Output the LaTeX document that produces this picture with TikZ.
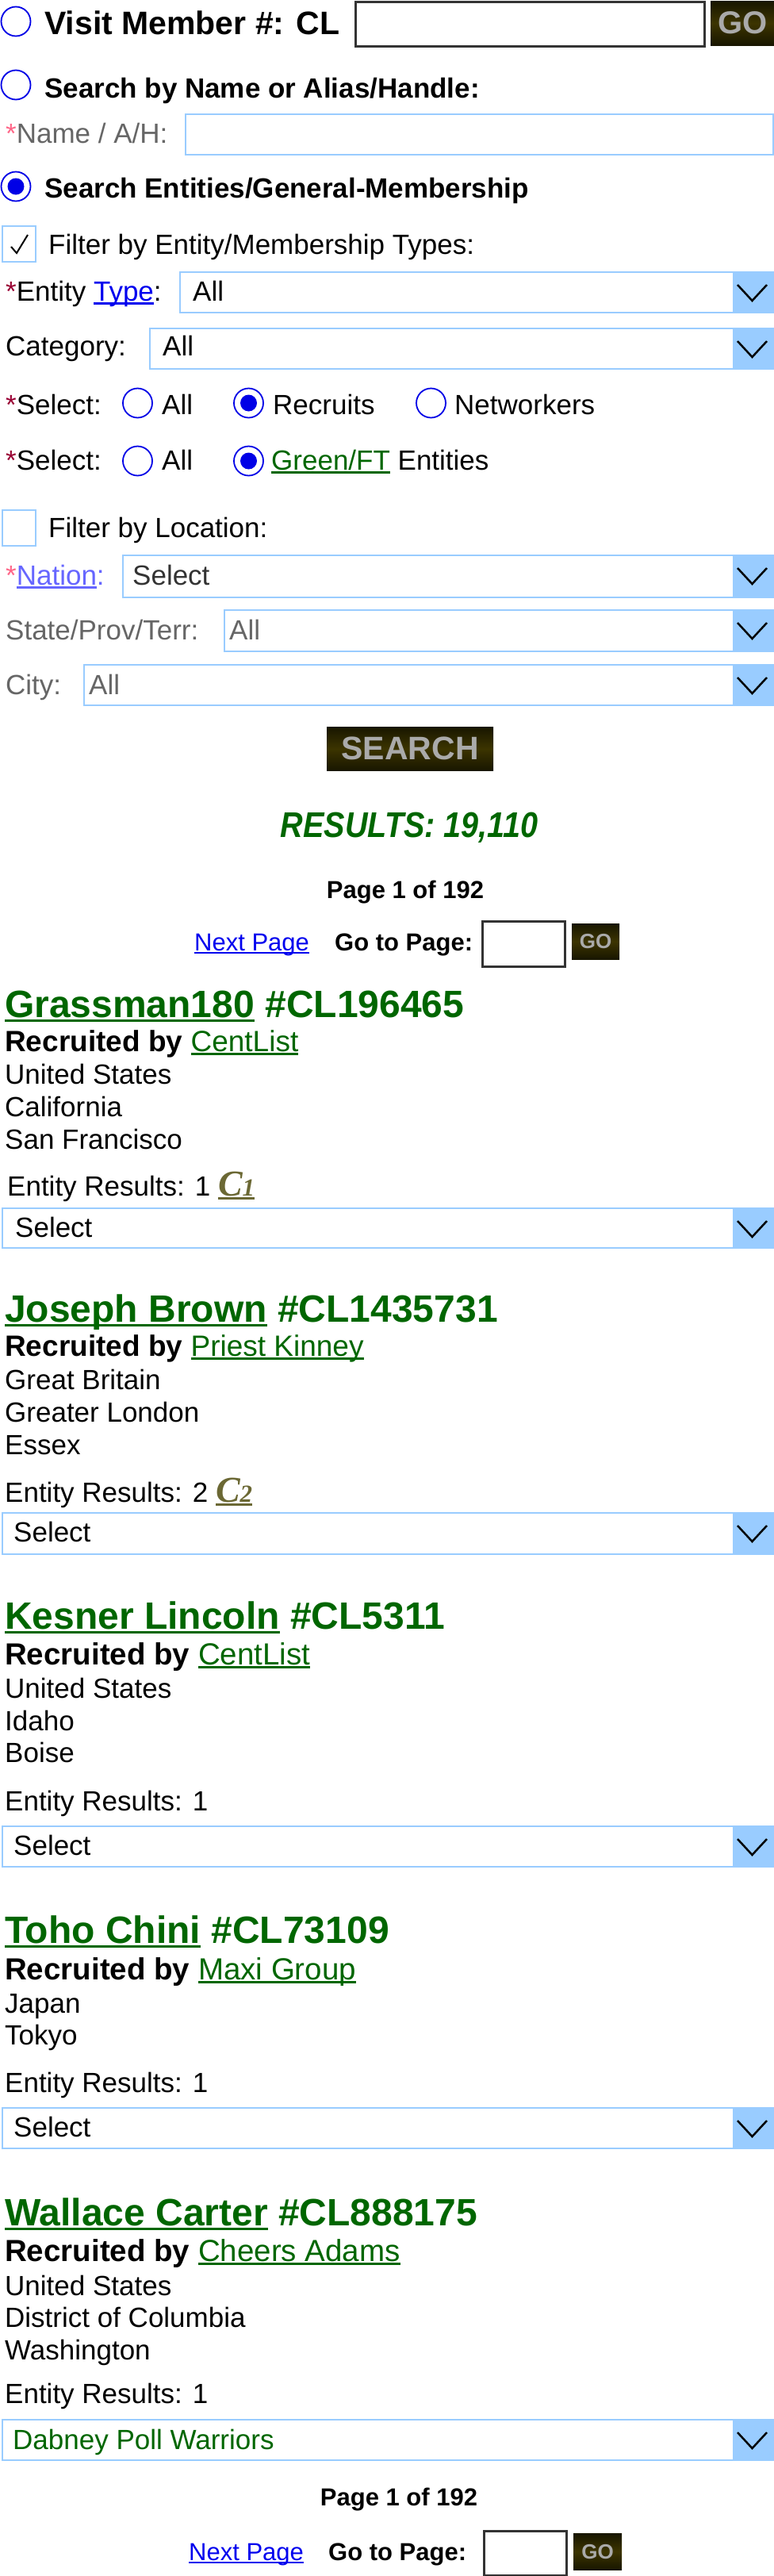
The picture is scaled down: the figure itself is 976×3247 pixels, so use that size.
\documentclass[tikz,border=0pt]{standalone}
\usepackage{fontspec}
\usepackage{graphicx}
\setmainfont{Liberation Sans}
\newfontfamily\badgefont{Liberation Serif}
\definecolor{radioblue}{RGB}{0,0,230}
\definecolor{selblue}{RGB}{153,204,255}
\definecolor{linkgreen}{RGB}{0,102,0}
\definecolor{linkblue}{RGB}{0,0,238}
\definecolor{navblue}{RGB}{102,102,255}
\definecolor{stardark}{RGB}{153,0,51}
\definecolor{starpink}{RGB}{255,102,136}
\definecolor{labelgray}{RGB}{102,102,102}
\definecolor{valgray}{RGB}{51,51,51}
\definecolor{btndark}{RGB}{24,22,0}
\definecolor{btnmid}{RGB}{60,52,0}
\definecolor{btntext}{RGB}{170,170,170}
\definecolor{badgeolive}{RGB}{107,104,52}
\newcommand\ulink[1]{\setbox0\hbox{#1}\rlap{\rule[-0.13em]{\wd0}{0.07em}}\box0\relax}
\newcommand\badge[1]{\textcolor{badgeolive}{\ulink{\badgefont\bfseries\itshape\fontsize{46}{46}\selectfont C\fontsize{31}{31}\selectfont#1}}}

\begin{document}
\begin{tikzpicture}[x=1pt,y=-1pt,
	body/.style={anchor=base west,inner sep=0pt,font=\fontsize{35}{42}\selectfont},
	strong/.style={body,font=\fontsize{35}{42}\selectfont\bfseries},
	hint/.style={body,text=labelgray},
	title/.style={body,text=linkgreen,font=\fontsize{48}{54}\selectfont\bfseries},
	byline/.style={body,font=\fontsize{38.5}{44}\selectfont},
	radio/.style={circle,draw=radioblue,line width=1.8pt,minimum size=37pt,inner sep=0pt},
	radioon/.style={radio,path picture={\fill[radioblue] (path picture bounding box.center) circle[radius=10.5pt];}},
	tickbox/.style={draw=selblue,line width=2pt,anchor=north west,inner sep=0pt,minimum width=42pt,minimum height=45pt},
	field/.style={draw=black!80,line width=2.5pt,anchor=north west,inner sep=0pt},
	inbox/.style={draw=selblue,line width=2pt,anchor=north west,inner sep=0pt},
	gobtn/.style={anchor=north west,inner sep=0pt,top color=btndark,bottom color=btndark,middle color=btnmid,text=btntext},
	dropdown/.style={draw=selblue,line width=2pt,anchor=north west,inner sep=0pt,
		path picture={
			\fill[selblue] ([xshift=-51pt]path picture bounding box.north east) rectangle (path picture bounding box.south east);
			\draw[black,line width=2.5pt] ([xshift=-45pt,yshift=-16pt]path picture bounding box.north east)
				-- ([xshift=-26.5pt,yshift=-36pt]path picture bounding box.north east)
				-- ([xshift=-8pt,yshift=-16pt]path picture bounding box.north east);}}]
\useasboundingbox (0,0) rectangle (976,3247);

% search form
\node[radio] (visitradio) at (20,27) {};
\node[strong,font=\fontsize{41}{48}\selectfont\bfseries] (visitlbl) at (56,43) {Visit Member \#: CL};
\node[field,minimum width=440pt,minimum height=56pt] (visitfield) at (447,1) {};
\node[gobtn,minimum width=80pt,minimum height=56pt,font=\fontsize{40}{44}\selectfont\bfseries] (visitgo) at (896,1) {GO};

\node[radio] (nameradio) at (20,107) {};
\node[strong] (namehead) at (56,123) {Search by Name or Alias/Handle:};
\node[hint] (namelbl) at (7,180) {\textcolor{starpink}{*}Name / A/H:};
\node[inbox,minimum width=741pt,minimum height=51pt] (namefield) at (233,143) {};

\node[radioon] (entradio) at (20,235) {};
\node[strong] (enthead) at (56,249) {Search Entities/General-Membership};

\node[tickbox] (typechk) at (2,284) {};
\draw[line width=2pt] ([shift={(-10,3.5)}]typechk.center) -- ([shift={(-3,11.5)}]typechk.center) -- ([shift={(11,-11.5)}]typechk.center);
\node[body] (typefilter) at (61,320) {Filter by Entity/Membership Types:};

\node[body] (typelbl) at (7,379) {\textcolor{stardark}{*}Entity \textcolor{linkblue}{\ulink{Type}}:};
\node[dropdown,minimum width=748pt,minimum height=51pt] (typesel) at (226,342) {};
\node[body] (typeval) at (243,379) {All};

\node[body] (catlbl) at (7,448) {Category:};
\node[dropdown,minimum width=786pt,minimum height=51pt] (catsel) at (188,413) {};
\node[body] (catval) at (205,448) {All};

\node[body] (rolelbl) at (7,522) {\textcolor{stardark}{*}Select:};
\node[radio] (roleall) at (173.5,508) {};
\node[body] (rolealltxt) at (204,522) {All};
\node[radioon] (rolerec) at (313.5,508) {};
\node[body] (rolerectxt) at (344,522) {Recruits};
\node[radio] (rolenet) at (543.5,508) {};
\node[body] (rolenettxt) at (573,522) {Networkers};

\node[body] (greenlbl) at (7,592) {\textcolor{stardark}{*}Select:};
\node[radio] (greenall) at (173.5,581) {};
\node[body] (greenalltxt) at (204,592) {All};
\node[radioon] (greenft) at (313.5,581) {};
\node[body] (greenfttxt) at (342,592) {\textcolor{linkgreen}{\ulink{Green/FT}} Entities};

\node[tickbox] (locchk) at (2,642) {};
\node[body] (locfilter) at (61,677) {Filter by Location:};

\node[body] (natlbl) at (7,737) {\textcolor{starpink}{*}\textcolor{navblue}{\ulink{Nation}:}};
\node[dropdown,minimum width=820pt,minimum height=53pt] (natsel) at (154,699) {};
\node[body,text=valgray] (natval) at (167,737) {Select};

\node[hint] (statelbl) at (7,806) {State/Prov/Terr:};
\node[dropdown,minimum width=692pt,minimum height=52pt] (statesel) at (282,768) {};
\node[hint] (stateval) at (289,806) {All};

\node[hint] (citylbl) at (7,875) {City:};
\node[dropdown,minimum width=869pt,minimum height=51pt] (citysel) at (105,837) {};
\node[hint] (cityval) at (112,875) {All};

\node[gobtn,minimum width=210pt,minimum height=55pt,font=\fontsize{41}{46}\selectfont\bfseries] (searchbtn) at (412,916) {SEARCH};

% results header
\node[anchor=base,inner sep=0pt,text=linkgreen,font=\fontsize{45}{50}\selectfont\bfseries\itshape] (results) at (516,1055) {\scalebox{0.88}[1]{RESULTS: 19,110}};
\node[anchor=base,inner sep=0pt,font=\fontsize{31}{36}\selectfont\bfseries] (pagetop) at (511,1132) {Page 1 of 192};
\node[body,font=\fontsize{31}{36}\selectfont,text=linkblue] (nexttop) at (245,1198) {\ulink{Next Page}};
\node[body,font=\fontsize{31}{36}\selectfont\bfseries] (gototop) at (422,1198) {Go to Page:};
\node[field,minimum width=104pt,minimum height=57pt] (pgfieldtop) at (607,1160) {};
\node[gobtn,minimum width=60pt,minimum height=45pt,font=\fontsize{26}{30}\selectfont\bfseries] (pggotop) at (721,1164) {GO};

% member 1
\node[title] (m1name) at (6,1282) {\ulink{Grassman180} \#CL196465};
\node[byline,font=\fontsize{37}{44}\selectfont] (m1by) at (6,1325) {\textbf{Recruited by} \textcolor{linkgreen}{\ulink{CentList}}};
\node[body] (m1a) at (6,1366) {United States};
\node[body] (m1b) at (6,1407) {California};
\node[body] (m1c) at (6,1448) {San Francisco};
\node[body] (m1res) at (9,1507) {Entity Results: 1 \badge{1}};
\node[dropdown,minimum width=972pt,minimum height=50pt] (m1sel) at (2,1522) {};
\node[body] (m1val) at (19,1559) {Select};

% member 2
\node[title] (m2name) at (6,1666) {\ulink{Joseph Brown} \#CL1435731};
\node[byline,font=\fontsize{37}{44}\selectfont] (m2by) at (6,1709) {\textbf{Recruited by} \textcolor{linkgreen}{\ulink{Priest Kinney}}};
\node[body] (m2a) at (6,1751) {Great Britain};
\node[body] (m2b) at (6,1792) {Greater London};
\node[body] (m2c) at (6,1833) {Essex};
\node[body] (m2res) at (6,1893) {Entity Results: 2 \badge{2}};
\node[dropdown,minimum width=972pt,minimum height=52pt] (m2sel) at (2,1906) {};
\node[body] (m2val) at (17,1943) {Select};

% member 3
\node[title] (m3name) at (6,2053) {\ulink{Kesner Lincoln} \#CL5311};
\node[byline] (m3by) at (6,2098) {\textbf{Recruited by} \textcolor{linkgreen}{\ulink{CentList}}};
\node[body] (m3a) at (6,2140) {United States};
\node[body] (m3b) at (6,2181) {Idaho};
\node[body] (m3c) at (6,2221) {Boise};
\node[body] (m3res) at (6,2282) {Entity Results: 1};
\node[dropdown,minimum width=972pt,minimum height=51pt] (m3sel) at (2,2301) {};
\node[body] (m3val) at (17,2338) {Select};

% member 4
\node[title] (m4name) at (6,2449) {\ulink{Toho Chini} \#CL73109};
\node[byline] (m4by) at (6,2495) {\textbf{Recruited by} \textcolor{linkgreen}{\ulink{Maxi Group}}};
\node[body] (m4a) at (6,2537) {Japan};
\node[body] (m4b) at (6,2577) {Tokyo};
\node[body] (m4res) at (6,2637) {Entity Results: 1};
\node[dropdown,minimum width=972pt,minimum height=51pt] (m4sel) at (2,2656) {};
\node[body] (m4val) at (17,2693) {Select};

% member 5
\node[title] (m5name) at (6,2805) {\ulink{Wallace Carter} \#CL888175};
\node[byline] (m5by) at (6,2850) {\textbf{Recruited by} \textcolor{linkgreen}{\ulink{Cheers Adams}}};
\node[body] (m5a) at (6,2893) {United States};
\node[body] (m5b) at (6,2933) {District of Columbia};
\node[body] (m5c) at (6,2974) {Washington};
\node[body] (m5res) at (6,3029) {Entity Results: 1};
\node[dropdown,minimum width=972pt,minimum height=51pt] (m5sel) at (2,3049) {};
\node[body,text=linkgreen] (m5val) at (16,3087) {Dabney Poll Warriors};

% bottom pager
\node[anchor=base,inner sep=0pt,font=\fontsize{31}{36}\selectfont\bfseries] (pagebot) at (503,3158) {Page 1 of 192};
\node[body,font=\fontsize{31}{36}\selectfont,text=linkblue] (nextbot) at (238,3227) {\ulink{Next Page}};
\node[body,font=\fontsize{31}{36}\selectfont\bfseries] (gotobot) at (414,3227) {Go to Page:};
\node[field,minimum width=104pt,minimum height=56pt] (pgfieldbot) at (609,3189) {};
\node[gobtn,minimum width=61pt,minimum height=46pt,font=\fontsize{26}{30}\selectfont\bfseries] (pggobot) at (723,3193) {GO};
\end{tikzpicture}
\end{document}
